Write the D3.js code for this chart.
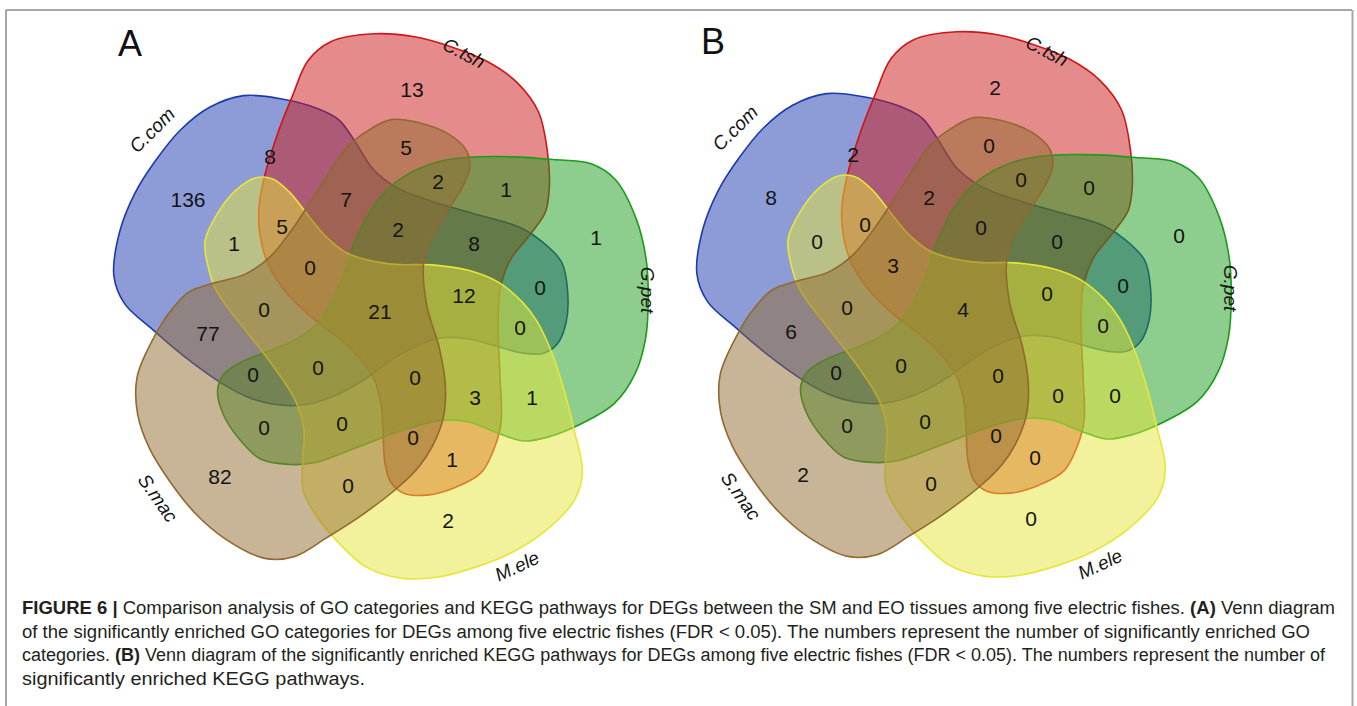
<!DOCTYPE html>
<html>
<head>
<meta charset="utf-8">
<script src="https://cdn.jsdelivr.net/npm/d3@7"></script>
<style>
  body { margin: 0; background: #fff; }
  svg { display: block; }
</style>
</head>
<body>
<svg id="fig" width="1357" height="706"></svg>
<script>
// ---- data -------------------------------------------------------------
const setNames = ["C.com", "C.tsh", "G.pet", "M.ele", "S.mac"];
const setColors = ["#1b3aae", "#cd1717", "#1b9c1b", "#e6e63a", "#91692f"];

// membership code: one character per set, in setNames order
const regionCodes = [
  "10000", "01000", "00100", "00010", "00001",
  "11000", "10100", "10010", "10001", "01100",
  "01010", "01001", "00110", "00101", "00011",
  "11100", "11010", "11001", "10110", "10101",
  "10011", "01110", "01101", "01011", "00111",
  "11110", "11101", "11011", "10111", "01111",
  "11111"
];
// (A) significantly enriched GO categories
const goCounts = [
  136, 13, 1, 2, 82,
  8, 0, 1, 77, 1,
  1, 5, 1, 0, 0,
  8, 5, 7, 0, 0,
  0, 3, 2, 0, 0,
  12, 2, 0, 0, 0,
  21
];
// (B) significantly enriched KEGG pathways
const keggCounts = [
  8, 2, 0, 0, 2,
  2, 0, 0, 6, 0,
  0, 0, 0, 0, 0,
  0, 0, 2, 0, 0,
  0, 0, 0, 0, 0,
  0, 0, 3, 0, 0,
  4
];
const panelLetters = ["A", "B"];

// ---- layout -------------------------------------------------------------
const panelCenters = [[380, 311], [963, 309]];
const scaleXY = [0.97, 0.99];   // the diagram is drawn slightly narrower than tall
// outline of one petal-shaped set, relative to the centre;
// the five sets are this outline turned in steps of 72 degrees
const petal = [
  [-6,-280],[35,-277],[72,-267],[109,-252],[139,-231],[161,-201],[170,-161],
  [172,-126],[168,-100],[153,-78],[132,-51],[122,-22],[120,18],[122,69],
  [123,112],[117,136],[103,163],[77,178],[48,186],[24,184],[11,173],[5,153],
  [3,119],[1,94],[-7,67],[-35,33],[-70,6],[-97,-21],[-114,-48],[-122,-78],
  [-123,-103],[-118,-133],[-104,-179],[-89,-217],[-73,-253],[-50,-272]
].map(p => [p[0] / 0.985, p[1]]);
const setTurns = [4, 0, 1, 2, 3];
// set-name placement relative to the centre: dx, dy, text rotation
const nameLayout = [
  [-228, -181, -45], [84, -258, 27], [268, -21, 90], [137, 255, -25], [-222, 187, 55]
];
// small hand adjustments of some count labels (dx, dy)
const labelNudge = {
  "00100": [-6, -48], "01000": [-12, 0], "00010": [-24, 5], "00001": [2, 11],
  "11000": [-36, 5], "11010": [6, 11], "01111": [3, -12], "01110": [3, 14],
  "01011": [5, -14], "11110": [2, -8], "10101": [-5, -7], "10010": [-2, 8]
};

const svg = d3.select("#fig");
const fontMain = "'Liberation Sans', Arial, sans-serif";

function turn(p, deg) {
  const a = deg * Math.PI / 180, c = Math.cos(a), s = Math.sin(a);
  return [(p[0] * c - p[1] * s) * scaleXY[0], (p[0] * s + p[1] * c) * scaleXY[1]];
}
const outline = d3.line().curve(d3.curveCatmullRomClosed.alpha(0.5));
const setPaths = setNames.map((_, i) => outline(petal.map(p => turn(p, setTurns[i] * 72))));

// sample each outline into a polygon for region analysis
const probe = svg.append("g").attr("visibility", "hidden");
const setPolys = setPaths.map(d => {
  const el = probe.append("path").attr("d", d).node();
  const len = el.getTotalLength();
  const n = 260, pts = [];
  for (let k = 0; k < n; k++) {
    const q = el.getPointAtLength(len * k / n);
    pts.push([q.x, q.y]);
  }
  return pts;
});
probe.remove();

// find a roomy interior point for every region of the diagram
function regionAnchors(polys) {
  const step = 2, R = 300, n = Math.floor(2 * R / step) + 1;
  const codes = new Int16Array(n * n);
  for (let j = 0; j < n; j++) for (let i = 0; i < n; i++) {
    const p = [-R + i * step, -R + j * step];
    let c = 0;
    for (let k = 0; k < polys.length; k++) if (d3.polygonContains(polys[k], p)) c |= 1 << k;
    codes[j * n + i] = c;
  }
  const dist = new Float32Array(n * n);
  for (let j = 0; j < n; j++) for (let i = 0; i < n; i++) {
    const id = j * n + i, c = codes[id];
    const edge = i === 0 || j === 0 || i === n - 1 || j === n - 1 ||
      codes[id - 1] !== c || codes[id + 1] !== c || codes[id - n] !== c || codes[id + n] !== c;
    dist[id] = edge ? 0 : 1e9;
  }
  const D = Math.SQRT2;
  for (let j = 1; j < n - 1; j++) for (let i = 1; i < n - 1; i++) {
    const id = j * n + i;
    dist[id] = Math.min(dist[id], dist[id - 1] + 1, dist[id - n] + 1, dist[id - n - 1] + D, dist[id - n + 1] + D);
  }
  for (let j = n - 2; j > 0; j--) for (let i = n - 2; i > 0; i--) {
    const id = j * n + i;
    dist[id] = Math.min(dist[id], dist[id + 1] + 1, dist[id + n] + 1, dist[id + n + 1] + D, dist[id + n - 1] + D);
  }
  const stats = new Map();
  for (let j = 0; j < n; j++) for (let i = 0; i < n; i++) {
    const id = j * n + i, c = codes[id];
    if (!c) continue;
    let s = stats.get(c);
    if (!s) { s = { sx: 0, sy: 0, cnt: 0, max: 0 }; stats.set(c, s); }
    s.sx += i; s.sy += j; s.cnt++; s.max = Math.max(s.max, dist[id]);
  }
  const best = new Map();
  for (let j = 0; j < n; j++) for (let i = 0; i < n; i++) {
    const id = j * n + i, c = codes[id];
    if (!c) continue;
    const s = stats.get(c);
    if (dist[id] < 0.72 * s.max) continue;
    const d2 = (i - s.sx / s.cnt) ** 2 + (j - s.sy / s.cnt) ** 2;
    const b = best.get(c);
    if (!b || d2 < b.d2) best.set(c, { d2, x: -R + i * step, y: -R + j * step });
  }
  return best;
}
const anchors = regionAnchors(setPolys);
function codeBits(code) {
  let c = 0;
  for (let k = 0; k < code.length; k++) if (code[k] === "1") c |= 1 << k;
  return c;
}

// ---- frame ---------------------------------------------------------------
svg.append("line").attr("x1", 6).attr("x2", 1352).attr("y1", 10).attr("y2", 10)
  .attr("stroke", "#8a8a8a").attr("stroke-width", 1.5);
svg.append("line").attr("x1", 6).attr("x2", 6).attr("y1", 10).attr("y2", 706)
  .attr("stroke", "#8a8a8a").attr("stroke-width", 1.5);
svg.append("line").attr("x1", 1352.5).attr("x2", 1352.5).attr("y1", 10).attr("y2", 706)
  .attr("stroke", "#a8a8a8").attr("stroke-width", 2);

// ---- panels ----------------------------------------------------------------
const panelCounts = [goCounts, keggCounts];
panelCenters.forEach((ctr, pi) => {
  const g = svg.append("g").attr("transform", `translate(${ctr[0]},${ctr[1]})`);
  setPaths.forEach((d, i) => {
    g.append("path").attr("d", d)
      .attr("fill", setColors[i]).attr("fill-opacity", 0.5)
      .attr("stroke", setColors[i]).attr("stroke-width", 1.6);
  });
  regionCodes.forEach((code, ri) => {
    const a = anchors.get(codeBits(code));
    if (!a) return;
    const nd = labelNudge[code] || [0, 0];
    g.append("text").attr("x", a.x + nd[0]).attr("y", a.y + nd[1]).attr("dy", "0.36em")
      .attr("text-anchor", "middle")
      .attr("font-family", fontMain).attr("font-size", 21).attr("fill", "#141414")
      .text(panelCounts[pi][ri]);
  });
  setNames.forEach((name, i) => {
    const L = nameLayout[i];
    g.append("text")
      .attr("transform", `translate(${L[0]},${L[1]}) rotate(${L[2]})`)
      .attr("text-anchor", "middle").attr("dy", "0.35em")
      .attr("font-family", fontMain).attr("font-style", "italic")
      .attr("font-size", 19).attr("fill", "#141414")
      .text(name);
  });
  g.append("text").attr("x", -262).attr("y", -255)
    .attr("font-family", fontMain).attr("font-size", 36).attr("fill", "#111")
    .text(panelLetters[pi]);
});

// ---- caption ---------------------------------------------------------------
const captionLines = [
  [["FIGURE 6 | ", true], ["Comparison analysis of GO categories and KEGG pathways for DEGs between the SM and EO tissues among five electric fishes. ", false], ["(A)", true], [" Venn diagram", false]],
  [["of the significantly enriched GO categories for DEGs among five electric fishes (FDR < 0.05). The numbers represent the number of significantly enriched GO", false]],
  [["categories. ", false], ["(B)", true], [" Venn diagram of the significantly enriched KEGG pathways for DEGs among five electric fishes (FDR < 0.05). The numbers represent the number of", false]],
  [["significantly enriched KEGG pathways.", false]]
];
const captionWidths = [1313, 1288, 1303, 343];
captionLines.forEach((parts, li) => {
  const t = svg.append("text").attr("x", 22).attr("y", 614 + li * 23.7)
    .attr("font-family", fontMain).attr("font-size", 18).attr("fill", "#231f20")
    .attr("textLength", captionWidths[li]).attr("lengthAdjust", "spacingAndGlyphs");
  parts.forEach(([s, bold]) => {
    t.append("tspan").attr("font-weight", bold ? "bold" : "normal").text(s);
  });
});
</script>
</body>
</html>
